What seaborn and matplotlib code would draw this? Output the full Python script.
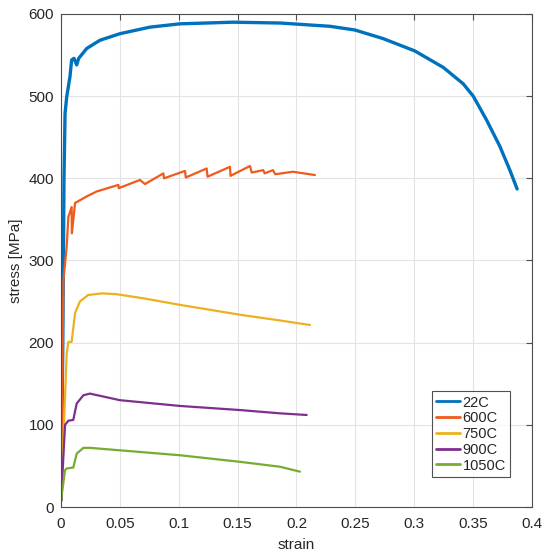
import pandas as pd
import matplotlib as mpl
import matplotlib.pyplot as plt
import seaborn as sns
import numpy as np
mpl.use('agg')

# curves (strain, stress MPa)
strain_22 = [0, 0.0015, 0.0025, 0.0034, 0.0048, 0.0076, 0.009, 0.011, 0.0133, 0.015, 0.0218, 0.033,
             0.05, 0.0756, 0.101, 0.146, 0.186, 0.2285, 0.2497, 0.2737, 0.3006, 0.3247, 0.3417,
             0.3502, 0.3615, 0.3728, 0.3813, 0.3875]
stress_22 = [8, 200, 400, 479, 499, 524, 544, 546, 538, 546, 558, 568,
             576, 584, 588, 590, 589, 585, 580.5, 570, 555, 535, 515,
             500, 471, 439, 410, 387]

strain_600 = [0, 0.002, 0.0048, 0.0062, 0.009, 0.0092, 0.0119, 0.0218, 0.0303, 0.0487, 0.049, 0.067,
              0.0713, 0.0869, 0.0875, 0.1053, 0.106, 0.1237, 0.1245, 0.1435, 0.144, 0.1605, 0.162,
              0.1718, 0.173, 0.18, 0.182, 0.197, 0.2157]
stress_600 = [8, 276, 317, 353, 365, 333, 370, 378, 384, 392, 388, 398,
              393, 406, 400, 409, 401, 412, 402, 414, 403, 415, 407,
              410, 406, 410, 405, 408, 404]

strain_750 = [0, 0.0048, 0.0062, 0.009, 0.0119, 0.016, 0.023, 0.035, 0.047, 0.07, 0.101, 0.152, 0.186, 0.2115]
stress_750 = [8, 187, 201, 201, 236, 250, 258, 260, 259, 254, 246, 234, 227, 221.5]

strain_900 = [0, 0.0034, 0.0062, 0.0104, 0.0133, 0.019, 0.0246, 0.05, 0.101, 0.152, 0.186, 0.2087]
stress_900 = [8, 100, 105, 106, 126, 136, 138, 130, 123, 118, 114, 112]

strain_1050 = [0, 0.0034, 0.005, 0.0104, 0.0133, 0.019, 0.0246, 0.05, 0.101, 0.152, 0.186, 0.203]
stress_1050 = [8, 45, 47, 48, 65, 72, 72, 69, 63, 55, 49, 43]

labels = ['22C', '600C', '750C', '900C', '1050C']
colors = ['#0072BD', '#F05A1C', '#EDB120', '#7E2F8E', '#77AC30']
xticks = [0, 0.05, 0.1, 0.15, 0.2, 0.25, 0.3, 0.35, 0.4]
xticklabels = ['0', '0.05', '0.1', '0.15', '0.2', '0.25', '0.3', '0.35', '0.4']
yticks = [0, 100, 200, 300, 400, 500, 600]

curves = [(strain_22, stress_22), (strain_600, stress_600), (strain_750, stress_750),
          (strain_900, stress_900), (strain_1050, stress_1050)]
frames = []
for lab, (s, t) in zip(labels, curves):
    frames.append(pd.DataFrame({'strain': s, 'stress': t, 'temp': lab}))
df = pd.concat(frames, ignore_index=True)

sns.set_style('white')
plt.rcParams['font.family'] = ['Liberation Sans', 'DejaVu Sans']

fig = plt.figure(figsize=(5.5, 5.59), dpi=100)
ax = fig.add_axes([0.111, 0.093, 0.856, 0.882])
sns.lineplot(data=df, x='strain', y='stress', hue='temp', hue_order=labels, palette=colors,
             sort=False, estimator=None, units='temp', linewidth=1.6, ax=ax)
ax.lines[0].set_linewidth(2.4)

ax.set_xlim(0, 0.4)
ax.set_ylim(0, 600)
ax.set_xticks(xticks)
ax.set_xticklabels(xticklabels)
ax.set_yticks(yticks)
ax.grid(True, color='#e3e3e3', linewidth=0.8)
ax.set_axisbelow(True)
for sp in ax.spines.values():
    sp.set_color('#4d4d4d')
    sp.set_linewidth(0.8)
ax.tick_params(direction='in', length=4, width=0.8, color='#4d4d4d', labelsize=11,
               labelcolor='#262626', top=True, right=True)
ax.tick_params(axis='x', pad=7)
ax.tick_params(axis='y', pad=5)
ax.set_xlabel('strain', fontsize=11, color='#262626', labelpad=5)
ax.set_ylabel('stress [MPa]', fontsize=11, color='#262626', labelpad=4)

leg = ax.legend(loc='lower left', bbox_to_anchor=(0.788, 0.061), fontsize=10.5, frameon=True,
                fancybox=False, edgecolor='#262626', handlelength=1.6, handletextpad=0.2,
                borderpad=0.3, labelspacing=0.12, borderaxespad=0)
leg.get_frame().set_linewidth(0.8)
for h in leg.get_lines():
    h.set_linewidth(2)

plt.savefig('out.png', dpi=100)
